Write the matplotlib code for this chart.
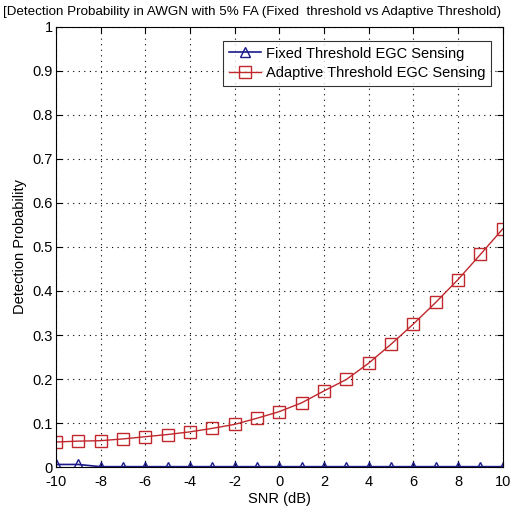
import matplotlib
matplotlib.use("Agg")
import matplotlib.pyplot as plt

snr_db = list(range(-10, 11))
fixed_pd = [0.006, 0.006, 0.001, 0.001, 0.001, 0.001, 0.001, 0.001, 0.001, 0.001, 0.001,
            0.001, 0.001, 0.001, 0.001, 0.001, 0.001, 0.001, 0.001, 0.001, 0.001]
adaptive_pd = [0.057, 0.059, 0.060, 0.064, 0.069, 0.074, 0.080, 0.088, 0.097, 0.111, 0.126,
               0.146, 0.173, 0.199, 0.236, 0.279, 0.325, 0.374, 0.426, 0.483, 0.541]
xticks = list(range(-10, 11, 2))
yticks = [i / 10 for i in range(11)]
ytick_labels = ["0", "0.1", "0.2", "0.3", "0.4", "0.5", "0.6", "0.7", "0.8", "0.9", "1"]

plt.rcParams['font.family'] = ['Liberation Sans', 'DejaVu Sans']
plt.rcParams['axes.unicode_minus'] = False

fig = plt.figure(figsize=(5.27, 5.15), dpi=100)
ax = fig.add_axes([0.106, 0.093, 0.848, 0.855])

ax.plot(snr_db, fixed_pd, color='#1a1a8c', marker='^', markersize=7.5, markerfacecolor='none',
        markeredgecolor='#1a1a8c', linewidth=1.2, label='Fixed Threshold EGC Sensing')
ax.plot(snr_db, adaptive_pd, color='#c0282d', marker='s', markersize=8, markerfacecolor='none',
        markeredgecolor='#c0282d', linewidth=1.0, label='Adaptive Threshold EGC Sensing')

ax.set_xlim(-10, 10)
ax.set_ylim(0, 1)
ax.set_xticks(xticks)
ax.set_yticks(yticks)
ax.set_yticklabels(ytick_labels)
ax.tick_params(direction='in', top=True, right=True, labelsize=10.5, length=4, pad=2)
ax.tick_params(axis='x', pad=6)
ax.grid(True, linestyle=(0, (1, 4)), color='black', linewidth=0.8)
ax.set_xlabel('SNR (dB)', fontsize=10.5, labelpad=2)
ax.set_ylabel('Detection Probability', fontsize=10.5, labelpad=4)
fig.text(0.006, 0.976,
         '[Detection Probability in AWGN with 5% FA (Fixed  threshold vs Adaptive Threshold)',
         fontsize=9.6, ha='left', va='center')
for s in ax.spines.values():
    s.set_linewidth(0.8)
leg = ax.legend(loc='upper right', fontsize=10.5, frameon=True, fancybox=False,
                edgecolor='black', handlelength=2.2, borderpad=0.4, labelspacing=0.4,
                handletextpad=0.3, bbox_to_anchor=(0.99, 0.985))
leg.get_frame().set_linewidth(0.8)

fig.savefig('out.png', dpi=100)
